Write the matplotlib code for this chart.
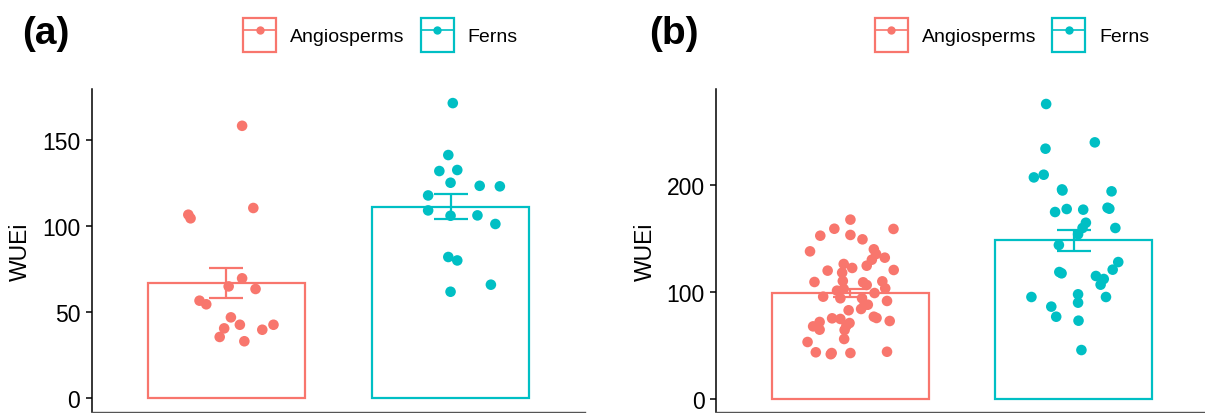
import matplotlib
matplotlib.use("Agg")
import matplotlib.pyplot as plt
from matplotlib.patches import Patch
from matplotlib.lines import Line2D
from matplotlib.legend_handler import HandlerTuple

plt.rcParams['font.family'] = ['Liberation Sans', 'DejaVu Sans']

groups = ['Angiosperms', 'Ferns']
colors = ['#F8766D', '#00BFC4']

# (a) WUEi per species, with the jittered x position of each point
a_angio_x = [1.07, 0.83, 0.84, 1.12, 1.07, 1.01, 1.13, 0.88, 0.91, 1.02,
             0.99, 1.06, 1.21, 1.16, 0.97, 1.08]
a_angio_y = [158.3, 106.6, 104.5, 110.5, 69.6, 64.9, 63.4, 56.6, 54.5, 46.9,
             40.5, 42.6, 42.6, 39.7, 35.5, 33.0]
a_fern_x = [2.01, 1.99, 1.95, 2.03, 2.00, 2.13, 2.22, 1.90, 1.90, 2.00,
            2.12, 2.20, 1.99, 2.03, 2.18, 2.00]
a_fern_y = [171.5, 141.3, 132.0, 132.6, 125.2, 123.4, 123.1, 117.8, 109.1, 106.0,
            106.2, 101.2, 82.0, 80.0, 65.9, 61.8]
a_means = [66.9, 111.2]
a_se = [8.85, 7.15]

# (b)
b_angio_x = [1.00, 0.928, 0.865, 1.00, 1.054, 1.193, 0.819, 1.105, 1.115, 1.154,
             1.096, 1.073, 0.97, 1.008, 0.898, 0.963, 1.194, 0.839, 0.966, 1.057,
             1.073, 1.143, 1.156, 0.94, 0.97, 1.108, 0.878, 0.955, 1.052, 1.164,
             1.063, 1.078, 1.048, 0.992, 0.918, 0.955, 1.105, 1.117, 1.176, 0.862,
             0.996, 0.982, 0.833, 0.862, 0.974, 0.972, 0.808, 0.845, 0.916, 0.912,
             1.00, 1.164]
b_angio_y = [167.4, 158.9, 152.4, 153.1, 149.0, 158.7, 137.8, 139.7, 135.3, 131.9,
             130.0, 124.4, 126.0, 122.3, 119.8, 117.9, 120.4, 109.2, 110.1, 108.9,
             106.4, 109.8, 103.3, 101.1, 102.7, 98.9, 95.5, 94.0, 94.0, 91.5,
             87.7, 88.0, 84.0, 82.8, 75.3, 74.7, 76.8, 75.6, 72.8, 71.9,
             70.9, 68.4, 67.8, 64.7, 64.4, 56.0, 53.2, 43.6, 42.9, 41.8,
             42.9, 44.1]
b_fern_x = [1.877, 2.095, 1.874, 1.822, 1.866, 1.948, 1.95, 2.17, 1.917, 1.969,
            2.043, 2.152, 2.16, 2.055, 2.04, 2.187, 2.02, 1.934, 2.20, 2.175,
            1.936, 1.946, 2.10, 2.135, 2.121, 1.811, 2.145, 2.02, 2.02, 1.90,
            1.922, 2.022, 2.035]
b_fern_y = [275.3, 239.5, 233.6, 206.8, 209.3, 195.6, 194.6, 193.8, 174.5, 177.3,
            176.7, 178.5, 177.6, 164.5, 159.6, 159.6, 153.7, 143.7, 127.8, 120.7,
            118.5, 117.3, 114.8, 112.0, 106.7, 95.2, 95.2, 97.7, 89.9, 86.2,
            76.8, 73.1, 45.7]
b_means = [98.8, 148.1]
b_se = [3.8, 9.65]


def draw_panel(ax, xs, ys, means, ses, ylim, yticks):
    pos = [1, 2]
    ax.bar(pos, means, width=0.7, facecolor='white', edgecolor=colors,
           linewidth=1.6, zorder=1)
    for x, y, c in zip(xs, ys, colors):
        ax.scatter(x, y, s=58, color=c, edgecolors='none', zorder=3)
    for p, m, s, c in zip(pos, means, ses, colors):
        ax.errorbar(p, m, yerr=s, fmt='none', ecolor=c, elinewidth=1.6,
                    capsize=12, capthick=1.6, zorder=4)
    ax.set_xlim(0.4, 2.6)
    ax.set_ylim(*ylim)
    ax.set_yticks(yticks)
    ax.set_xticks([])
    ax.spines['top'].set_visible(False)
    ax.spines['right'].set_visible(False)
    ax.spines['left'].set_linewidth(1.1)
    ax.spines['bottom'].set_linewidth(1.0)
    ax.spines['bottom'].set_color('#555555')
    ax.tick_params(axis='y', length=4.5, width=1.1, pad=4, labelsize=16.5)
    ax.set_ylabel('WUEi', fontsize=16.5, labelpad=7)


def add_legend(fig, x, y):
    handles = []
    for c in colors:
        box = Patch(facecolor='white', edgecolor=c, linewidth=1.6)
        line = Line2D([], [], color=c, linewidth=1.2, marker='o',
                      markersize=6, markeredgewidth=0)
        handles.append((box, line))
    fig.legend(handles, groups, loc='center left', bbox_to_anchor=(x, y),
               ncol=2, frameon=False, fontsize=14, handlelength=1.7,
               handleheight=2.24, handletextpad=0.72, columnspacing=0.82,
               borderpad=0, borderaxespad=0, numpoints=1,
               handler_map={tuple: HandlerTuple(ndivide=1, pad=0)})


fig = plt.figure(figsize=(12.05, 4.14), dpi=100)
ax_a = fig.add_axes([0.0763, 0.003, 0.4092, 0.7796])
ax_b = fig.add_axes([0.5946, 0.003, 0.4075, 0.7796])

draw_panel(ax_a, [a_angio_x, a_fern_x], [a_angio_y, a_fern_y], a_means, a_se,
           (-8.0, 179.7), [0, 50, 100, 150])
draw_panel(ax_b, [b_angio_x, b_fern_x], [b_angio_y, b_fern_y], b_means, b_se,
           (-11.9, 289.3), [0, 100, 200])

fig.text(0.018, 0.918, '(a)', fontsize=28, fontweight='bold', va='center')
fig.text(0.539, 0.918, '(b)', fontsize=28, fontweight='bold', va='center')
add_legend(fig, 0.2017, 0.913)
add_legend(fig, 0.726, 0.913)

fig.savefig('out.png', dpi=100)
